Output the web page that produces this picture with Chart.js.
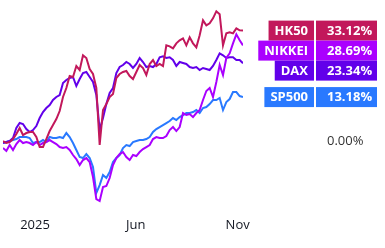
<!DOCTYPE html>
<html>
<head>
<meta charset="utf-8">
<script src="https://cdn.jsdelivr.net/npm/chart.js@4"></script>
<style>
  html, body { margin: 0; padding: 0; background: #fff; }
  #wrap { width: 385px; height: 248px; }
</style>
</head>
<body>
<div id="wrap"><canvas id="myChart" width="385" height="248"></canvas></div>
<script>
// one point every 5 days, from mid Nov 2024 to mid Nov 2025
var days = [];
for (var i = 0; i <= 72; i++) days.push(i * 5);

var tickDays = [48, 199, 352];
var tickLabels = ['2025', 'Jun', 'Nov'];

var names = ['HK50', 'NIKKEI', 'DAX', 'SP500'];
var colors = ['#c2185b', '#aa00ff', '#6200ea', '#2979ff'];

// % change since start
var hk50 = [0, -0.6, -0.3, 0.6, 2.1, 3.9, 1.8, 2.4, 2.7, 2.7, 1.2, -1.8, -1.8, 0.6, 3.0, 4.8,
  6.6, 9.0, 13.2, 15.9, 19.5, 19.2, 22.5, 21.3, 25.7, 24.9, 21.6, 20.1, 15.9, -1.2, 9.3, 11.1,
  13.2, 14.1, 18.9, 20.1, 20.7, 21.0, 19.5, 18.6, 20.7, 22.8, 21.9, 19.8, 23.1, 24.3, 22.5, 23.1,
  22.5, 28.7, 28.4, 27.8, 29.3, 30.2, 30.8, 28.7, 31.1, 29.3, 28.1, 31.7, 36.2, 34.7, 35.3, 36.8,
  38.9, 38.0, 28.7, 32.3, 32.6, 32.3, 33.8, 33.2, 33.12];
var nikkei = [-2.1, -3.0, -1.2, -2.7, -0.9, 0.3, -0.6, -0.3, -0.6, -1.2, -0.3, -1.2, -0.6, -0.3, 0.3, -0.3,
  -0.9, -1.8, -2.1, -1.8, -2.7, -4.2, -5.4, -7.2, -5.7, -5.1, -6.3, -10.8, -17.4, -18.0, -13.8, -13.5,
  -11.1, -7.2, -5.1, -3.9, -3.3, -4.8, -5.7, -4.2, -4.5, -3.3, -2.4, -1.8, -1.2, 0.6, 1.2, 0.9,
  0.9, 1.5, 3.3, 4.2, 3.0, 4.2, 8.4, 7.8, 8.1, 7.2, 8.4, 9.3, 12.3, 15.0, 15.9, 13.2,
  17.7, 22.8, 19.8, 24.9, 26.3, 29.3, 32.0, 30.2, 28.69];
var dax = [-0.6, -0.3, 0, 0.9, 3.9, 5.4, 5.1, 3.6, 2.7, 3.3, 4.5, 6.9, 8.7, 9.9, 10.8, 12.3,
  13.2, 13.8, 17.4, 18.3, 18.9, 19.2, 16.5, 18.6, 20.4, 20.7, 19.2, 17.7, 13.8, 3.3, 6.9, 11.1,
  14.4, 15.9, 20.4, 22.2, 22.8, 23.7, 23.1, 21.9, 23.1, 24.9, 23.7, 22.2, 22.5, 22.2, 23.1, 25.1,
  25.4, 24.9, 25.1, 24.3, 22.5, 23.7, 23.4, 23.1, 22.2, 21.9, 22.2, 21.3, 21.9, 21.6, 21.3, 22.5,
  24.3, 26.3, 25.7, 24.9, 25.1, 25.1, 24.3, 24.3, 23.34];
var sp500 = [-0.6, -0.3, 0, 0.3, 0.6, 1.2, 1.2, 1.2, 0.9, -0.6, -0.3, -0.3, 0.3, -0.3, 1.2, 0.9,
  0.9, 1.2, 0.9, 2.4, 1.2, -0.6, -2.7, -4.8, -5.1, -3.9, -5.1, -7.8, -15.6, -13.2, -10.2, -11.1,
  -9.3, -6.3, -5.1, -4.2, -2.1, -1.2, -1.5, -0.3, 0, 0.3, 0.3, 0.6, 1.2, 2.7, 3.6, 4.2,
  4.8, 5.4, 6.0, 6.9, 6.3, 7.2, 7.8, 8.4, 8.4, 8.7, 9.3, 8.4, 9.9, 10.2, 11.1, 12.3,
  12.3, 12.9, 9.3, 11.7, 12.6, 14.7, 14.7, 13.5, 13.18];

var series = [hk50, nikkei, dax, sp500];

function pts(vals) {
  return vals.map(function (v, i) { return { x: days[i], y: v }; });
}

// right hand price tags
var tagPlugin = {
  id: 'tags',
  afterDraw: function (chart) {
    var ctx = chart.ctx;
    var ys = chart.scales.y;
    var h = 20;
    var tags = chart.data.datasets.map(function (ds, i) {
      var last = ds.data[ds.data.length - 1].y;
      return { name: ds.label, val: last, color: colors[i], y: ys.getPixelForValue(last) };
    });
    tags.sort(function (a, b) { return a.y - b.y; });
    var prev = -999;
    tags.forEach(function (t) {
      var top = t.y - h / 2;
      if (top < prev) top = prev;
      t.top = top;
      prev = top + h;
    });
    ctx.save();
    ctx.font = 'bold 13px "Open Sans"';
    ctx.textBaseline = 'middle';
    tags.forEach(function (t) {
      var w = ctx.measureText(t.name).width + 12;
      ctx.fillStyle = t.color;
      ctx.fillRect(314 - w, t.top, w, h);
      ctx.fillRect(316, t.top, 61, h);
      ctx.fillStyle = '#fff';
      ctx.textAlign = 'right';
      ctx.fillText(t.name, 308, t.top + h / 2 + 0.5);
      ctx.textAlign = 'left';
      ctx.fillText(t.val.toFixed(2) + '%', 327, t.top + h / 2 + 0.5);
    });
    ctx.font = '13px "Open Sans"';
    ctx.fillStyle = '#333';
    ctx.textAlign = 'left';
    ctx.fillText('0.00%', 327, ys.getPixelForValue(0) + 0.5);
    ctx.restore();
  }
};

var ctx = document.getElementById('myChart').getContext('2d');
var myChart = new Chart(ctx, {
  type: 'line',
  data: {
    datasets: series.map(function (s, i) {
      return {
        label: names[i],
        data: pts(s),
        borderColor: colors[i],
        borderWidth: 2,
        pointRadius: 0,
        tension: 0,
        order: i
      };
    })
  },
  options: {
    responsive: false,
    animation: false,
    layout: { padding: { left: 3, right: 142, top: 1, bottom: 15 } },
    plugins: {
      legend: { display: false },
      tooltip: { enabled: false }
    },
    scales: {
      x: {
        type: 'linear',
        min: 0,
        max: 360,
        grid: { display: false, drawTicks: false },
        border: { display: false },
        afterBuildTicks: function (axis) {
          axis.ticks = tickDays.map(function (d) { return { value: d }; });
        },
        afterFit: function (axis) {
          axis.height = 25.3;
        },
        ticks: {
          padding: 9.5,
          maxRotation: 0,
          autoSkip: false,
          color: '#131722',
          font: { family: 'Open Sans', size: 13 },
          callback: function (v) { return tickLabels[tickDays.indexOf(v)]; }
        }
      },
      y: {
        display: false,
        min: -20,
        max: 42
      }
    }
  },
  plugins: [tagPlugin]
});
</script>
</body>
</html>
